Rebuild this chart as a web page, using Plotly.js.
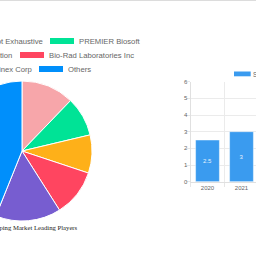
<!DOCTYPE html>
<html>
<head>
<meta charset="utf-8">
<script src="https://cdn.plot.ly/plotly-3.0.1.min.js"></script>
<style>
html,body{margin:0;padding:0;background:#fff;overflow:hidden;width:256px;height:256px;}
#chart{position:absolute;left:-200px;top:0;width:600px;height:256px;}
</style>
</head>
<body>
<div id="chart"></div>
<script>
// ---- data ----
var playerNames = ["Illumina Inc *List Not Exhaustive", "PREMIER Biosoft", "Fluidigm Corporation", "Bio-Rad Laboratories Inc", "Luminex Corp", "Others"];
var playerShares = [12.2, 9.1, 8.8, 10.9, 15.1, 43.9];
var playerColors = ["#F7A6AA", "#00E396", "#FEB019", "#FF4560", "#775DD0", "#008FFB"];
var pieTitle = "SNP Genotyping Market Leading Players";

var years = ["2020", "2021"];
var marketSize = [2.5, 3];
var barSeriesName = "Sales";
var barColor = "#3A9BEF";

// ---- geometry helpers (page px -> paper) ----
var OFF = 200, W = 600, H = 256;
function xp(px){ return (px + OFF) / W; }
function yp(py){ return 1 - py / H; }

var pieCx = 22, pieCy = 151, pieR = 70;

var shapes = [];
var annotations = [];

// top separator line
shapes.push({type:'line', xref:'paper', yref:'paper', x0:0, x1:1, y0:yp(0.5), y1:yp(0.5), line:{color:'#dcdcdc', width:1}});

// custom legend for pie (two items per row)
var cv = document.createElement('canvas').getContext('2d');
var LFONT = 7.7;
var LFAM = '"Liberation Sans", Arial, sans-serif';
cv.font = LFONT + 'px ' + LFAM;
var boxW = 24, boxH = 6, txtGap = 5, itemGap = 7.3, rowY0 = 41, rowStep = 14;
var secondBoxX = [50, 20, 39];
for (var r = 0; r < 3; r++) {
  var a = 2*r, b = 2*r+1;
  var y = rowY0 + r * rowStep;
  var sx = secondBoxX[r];
  var endA = sx - itemGap;
  var wA = cv.measureText(playerNames[a]).width;
  var boxA = endA - wA - txtGap - boxW;
  [[a, boxA], [b, sx]].forEach(function(it){
    var i = it[0], bx = it[1];
    shapes.push({type:'rect', xref:'paper', yref:'paper', x0:xp(bx), x1:xp(bx+boxW), y0:yp(y+boxH/2), y1:yp(y-boxH/2), fillcolor:playerColors[i], line:{width:0}});
    annotations.push({xref:'paper', yref:'paper', x:xp(bx+boxW+txtGap), y:yp(y), xanchor:'left', yanchor:'middle', showarrow:false, borderpad:0, borderwidth:0, text:playerNames[i], font:{family:LFAM, size:LFONT, color:'#666'}});
  });
}

// pie title
annotations.push({xref:'paper', yref:'paper', x:xp(pieCx), y:yp(227.5), xanchor:'center', yanchor:'middle', showarrow:false, borderpad:0, borderwidth:0, text:pieTitle, font:{family:'"Liberation Serif", "Times New Roman", serif', size:6.7, color:'#222'}});

// bar chart legend
shapes.push({type:'rect', xref:'paper', yref:'paper', x0:xp(234), x1:xp(250.7), y0:yp(76.3), y1:yp(71.5), fillcolor:barColor, line:{width:0}});
annotations.push({xref:'paper', yref:'paper', x:xp(253.3), y:yp(74), xanchor:'left', yanchor:'middle', showarrow:false, borderpad:0, borderwidth:0, text:barSeriesName, font:{family:LFAM, size:6.5, color:'#666'}});

var bandW = 34, nBands = 5, axisX = 190.5, baseY = 181.7, topY = 81.7;

var traces = [
  {
    type:'pie', labels:playerNames, values:playerShares, sort:false, direction:'clockwise', rotation:0,
    marker:{colors:playerColors, line:{color:'#fff', width:1}},
    textinfo:'none', hoverinfo:'label+percent', showlegend:false,
    domain:{x:[xp(pieCx-pieR), xp(pieCx+pieR)], y:[yp(pieCy+pieR), yp(pieCy-pieR)]}
  },
  {
    type:'bar', x:years, y:marketSize, xaxis:'x', yaxis:'y', width:0.7,
    marker:{color:barColor, line:{color:'rgba(255,255,255,0.45)', width:1}},
    text:marketSize.map(String), textposition:'inside', insidetextanchor:'middle',
    textfont:{family:LFAM, size:6, color:'#e6f1fd'},
    showlegend:false, cliponaxis:false
  }
];

var layout = {
  width:W, height:H, margin:{l:0, r:0, t:0, b:0}, paper_bgcolor:'#fff', plot_bgcolor:'rgba(0,0,0,0)',
  showlegend:false,
  xaxis:{
    domain:[xp(axisX), xp(axisX + bandW*nBands)], anchor:'y', type:'category', categoryarray:years,
    range:[-0.5, nBands-0.5], tickson:'boundaries', ticks:'outside', ticklen:4, tickcolor:'#e6e6e6',
    showgrid:true, gridcolor:'#ebebeb', gridwidth:1, showline:true, linecolor:'#e0e0e0', linewidth:1,
    tickfont:{family:LFAM, size:6, color:'#666'}, fixedrange:true
  },
  yaxis:{
    domain:[yp(baseY), yp(topY)], anchor:'x', range:[0,6], dtick:1, ticks:'outside', ticklen:4, tickcolor:'#e6e6e6',
    ticklabelstandoff:-3,
    showgrid:true, gridcolor:'#ebebeb', gridwidth:1, showline:true, linecolor:'#e0e0e0', linewidth:1, zeroline:false,
    tickfont:{family:LFAM, size:6, color:'#666'}, fixedrange:true
  },
  shapes:shapes, annotations:annotations
};

Plotly.newPlot('chart', traces, layout, {displayModeBar:false, staticPlot:true});
</script>
</body>
</html>
